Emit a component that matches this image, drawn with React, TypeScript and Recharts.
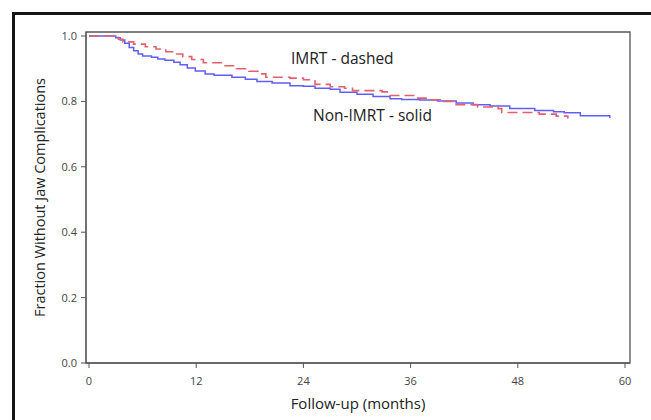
import React from "react";
import { LineChart, Line, XAxis, YAxis, ReferenceArea } from "recharts";

const nonImrtMonths = [0, 3.0, 3.5, 4.0, 4.5, 5.0, 5.5, 6.0, 7.0, 7.7, 8.5, 9.5, 10.2, 11.0, 11.9, 13.0, 14.0, 16.0, 17.5, 18.8, 20.5, 22.5, 24.0, 25.3, 27.0, 28.1, 30.0, 31.8, 33.7, 35.0, 37.0, 39.0, 41.1, 43.0, 44.9, 47.1, 49.9, 52.0, 53.2, 55.0, 58.3];
const nonImrtValues = [1.0, 0.995, 0.988, 0.978, 0.965, 0.955, 0.945, 0.939, 0.935, 0.93, 0.926, 0.92, 0.912, 0.902, 0.893, 0.884, 0.88, 0.874, 0.868, 0.861, 0.856, 0.848, 0.846, 0.84, 0.837, 0.828, 0.822, 0.815, 0.808, 0.806, 0.804, 0.801, 0.795, 0.79, 0.786, 0.778, 0.772, 0.768, 0.765, 0.756, 0.749];

const imrtMonths = [0, 3.3, 3.8, 5.0, 6.3, 7.5, 8.6, 9.5, 10.5, 11.5, 12.8, 15.1, 16.5, 17.9, 19.0, 19.8, 22.5, 24.0, 25.3, 27.0, 28.6, 29.5, 32.8, 33.7, 36.5, 38.0, 39.3, 41.1, 43.5, 45.8, 46.2, 50.4, 52.3, 53.6];
const imrtValues = [1.0, 0.99, 0.982, 0.975, 0.967, 0.96, 0.952, 0.945, 0.937, 0.928, 0.918, 0.909, 0.9, 0.892, 0.884, 0.874, 0.871, 0.866, 0.852, 0.845, 0.84, 0.833, 0.829, 0.818, 0.81, 0.805, 0.8, 0.79, 0.783, 0.778, 0.766, 0.761, 0.755, 0.748];

const xTicks = [0, 12, 24, 36, 48, 60];
const yTicks = [0, 0.2, 0.4, 0.6, 0.8, 1.0];

const nonImrtData = nonImrtMonths.map((m, i) => ({ month: m, value: nonImrtValues[i] }));
const imrtData = imrtMonths.map((m, i) => ({ month: m, value: imrtValues[i] }));

const X_MIN = -0.336;
const X_MAX = 60.56;
const Y_MIN = 0;
const Y_MAX = 1.0122;

const font = "'Open Sans', 'Noto Sans', sans-serif";

export default function App() {
  return (
    <div style={{ position: "absolute", left: 0, top: 0, width: 651, height: 420, overflow: "hidden", background: "#fff", fontFamily: font }}>
      <div style={{ position: "absolute", left: 12, top: 12, width: 639, height: 408, borderLeft: "3px solid #151515", borderTop: "3px solid #151515", boxSizing: "border-box" }} />
      <LineChart width={651} height={420} margin={{ top: 32, right: 21, left: 0, bottom: 7 }}>
        <XAxis
          dataKey="month"
          type="number"
          domain={[X_MIN, X_MAX]}
          ticks={xTicks}
          allowDataOverflow
          height={50}
          tickSize={5}
          tickMargin={9}
          stroke="#555"
          tick={{ fill: "#444", fontSize: 11, fontFamily: font }}
          label={{ value: "Follow-up (months)", position: "insideBottom", offset: 0, dy: -4, fill: "#222", fontSize: 15, fontFamily: font }}
        />
        <YAxis
          type="number"
          domain={[Y_MIN, Y_MAX]}
          ticks={yTicks}
          allowDataOverflow
          width={86}
          tickSize={5}
          tickMargin={4}
          stroke="#555"
          tickFormatter={(v: number) => v.toFixed(1)}
          tick={{ fill: "#444", fontSize: 11, fontFamily: font }}
          label={{ value: "Fraction Without Jaw Complications", angle: -90, position: "insideLeft", offset: 0, dx: 40, dy: 0, fill: "#222", fontSize: 14.5, fontFamily: font, style: { textAnchor: "middle" } }}
        />
        <ReferenceArea x1={X_MIN} x2={X_MAX} y1={Y_MIN} y2={Y_MAX} fill="none" stroke="#555" strokeWidth={1.3} />
        <Line data={nonImrtData} dataKey="value" type="stepAfter" stroke="#5f5ff8" strokeWidth={1.5} dot={false} isAnimationActive={false} />
        <Line data={imrtData} dataKey="value" type="stepAfter" stroke="#e4606c" strokeWidth={1.6} strokeDasharray="10 5" dot={false} isAnimationActive={false} />
      </LineChart>
      <div style={{ position: "absolute", left: 291, top: 48, fontSize: 15.5, color: "#222", whiteSpace: "nowrap", lineHeight: "20px" }}>IMRT - dashed</div>
      <div style={{ position: "absolute", left: 313, top: 105, fontSize: 15.5, color: "#222", whiteSpace: "nowrap", lineHeight: "20px" }}>Non-IMRT - solid</div>
    </div>
  );
}
